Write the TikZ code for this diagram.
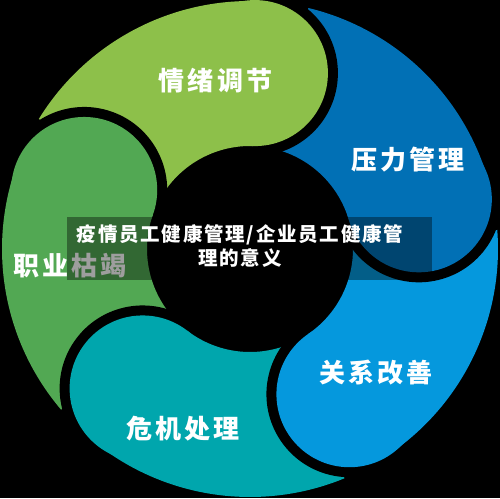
\documentclass[tikz,border=0pt]{standalone}
\usepackage{fontspec}
\newfontfamily\cjk[LetterSpace=12]{Noto Sans CJK SC}
\usepackage{xcolor}
\usepackage{tikz}

\definecolor{lgreen}{HTML}{8DC04A}
\definecolor{dgreen}{HTML}{52A853}
\definecolor{teal}{HTML}{00A6AD}
\definecolor{lblue}{HTML}{0598DD}
\definecolor{dblue}{HTML}{0170B5}

\tikzset{
  petaltext/.style={text=white,font=\cjk\bfseries\fontsize{26}{30}\selectfont},
  titletext/.style={text=white,align=center,font=\cjk\bfseries\addfontfeature{LetterSpace=9}\fontsize{19.5}{24}\selectfont},
  headring/.style={fill=black},
}

\begin{document}
\begin{tikzpicture}[x=1pt,y=1pt]
  \useasboundingbox (-250,-249) rectangle (250,249);
  \clip (-250,-249) rectangle (250,249);
  \fill[black] (-250,-249) rectangle (250,249);
  % petal bodies
  \fill[lgreen] (148.4:248) arc[start angle=148.4,end angle=88.4,radius=248] -- (88.4:103) arc[start angle=88.4,end angle=144.4,radius=103] -- cycle;
  \fill[dblue] (76.4:248) arc[start angle=76.4,end angle=16.4,radius=248] -- (16.4:103) arc[start angle=16.4,end angle=72.4,radius=103] -- cycle;
  \fill[lblue] (4.4:248) arc[start angle=4.4,end angle=-55.6,radius=248] -- (-55.6:103) arc[start angle=-55.6,end angle=0.4,radius=103] -- cycle;
  \fill[teal] (-67.6:248) arc[start angle=-67.6,end angle=-127.6,radius=248] -- (-127.6:103) arc[start angle=-127.6,end angle=-71.6,radius=103] -- cycle;
  \fill[dgreen] (220.4:248) arc[start angle=220.4,end angle=160.4,radius=248] -- (160.4:103) arc[start angle=160.4,end angle=216.4,radius=103] -- cycle;
  % heads
  \fill[headring,shift={(88.4:176)}] (88.4:83) arc[start angle=88.4,end angle=-91.6,radius=83] -- cycle;
  \fill[lgreen] (88.4:176) circle (73);
  \fill[headring,shift={(16.4:176)}] (16.4:83) arc[start angle=16.4,end angle=-163.6,radius=83] -- cycle;
  \fill[dblue] (16.4:176) circle (73);
  \fill[headring,shift={(-55.6:176)}] (-55.6:83) arc[start angle=-55.6,end angle=-235.6,radius=83] -- cycle;
  \fill[lblue] (-55.6:176) circle (73);
  \fill[headring,shift={(-127.6:176)}] (-127.6:83) arc[start angle=-127.6,end angle=-307.6,radius=83] -- cycle;
  \fill[teal] (-127.6:176) circle (73);
  \fill[headring,shift={(160.4:176)}] (160.4:83) arc[start angle=160.4,end angle=-19.6,radius=83] -- cycle;
  \fill[dgreen] (160.4:176) circle (73);
  % labels
  \node[petaltext] (emotion) at (-34.5,168.5) {情绪调节};
  \node[petaltext] (stress) at (158,89) {压力管理};
  \node[petaltext] (burnout) at (-180,-17) {职业枯竭};
  \node[petaltext] (relation) at (126,-124) {关系改善};
  \node[petaltext] (crisis) at (-67,-180) {危机处理};
  % band and title
  \fill[black,opacity=0.38] (-183,32) rectangle (182,-31);
  \node[titletext] (title) at (-10,3) {疫情员工健康管理/企业员工健康管\\理的意义};
\end{tikzpicture}
\end{document}
